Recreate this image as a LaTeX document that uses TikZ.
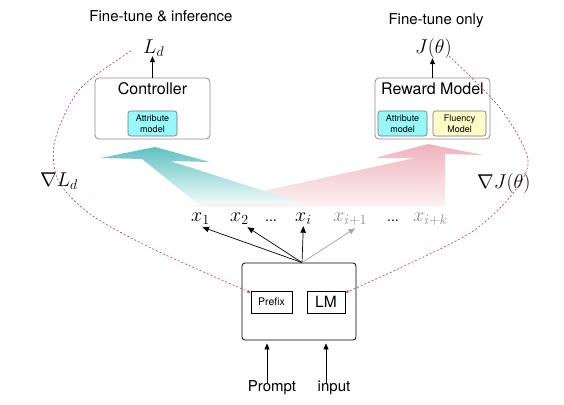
\RequirePackage{fix-cm}
\documentclass[tikz,border=0pt]{standalone}
\usepackage{fontspec}
\setmainfont{TeX Gyre Heros}
\usetikzlibrary{arrows.meta}
\definecolor{attr}{RGB}{150,248,250}
\definecolor{flu}{RGB}{255,252,200}
\definecolor{redd}{RGB}{200,50,70}
\definecolor{tealt}{RGB}{95,193,193}
\definecolor{tealm}{RGB}{150,215,215}
\definecolor{tealb}{RGB}{242,251,251}
\definecolor{pinkt}{RGB}{240,178,188}
\definecolor{pinkm}{RGB}{244,200,207}
\definecolor{pinkb}{RGB}{253,242,244}
\begin{document}
\begin{tikzpicture}[x=1pt,y=-1pt,
  title/.style={font=\fontsize{15}{18}\selectfont, inner sep=0pt},
  boxtitle/.style={font=\fontsize{16}{19}\selectfont, inner sep=0pt},
  mathl/.style={font=\fontsize{20}{24}\selectfont, inner sep=0pt, anchor=base west},
  dotsl/.style={font=\fontsize{14}{16}\selectfont, inner sep=0pt, anchor=base west},
  outerbox/.style={draw=black!45, line width=0.8pt, rounded corners=4pt, fill=white, minimum width=115pt, minimum height=61pt},
  innerbox/.style={draw=black!55, line width=0.6pt, rounded corners=2.5pt, minimum height=25pt, inner sep=0pt, align=center, font=\fontsize{9}{11}\selectfont},
  sqbox/.style={draw, line width=0.7pt, minimum height=22pt, inner sep=0pt},
  blk/.style={line width=0.8pt, -{Triangle[length=6pt,width=5pt]}},
  tok/.style={line width=0.7pt, -{Triangle[length=6.5pt,width=5.5pt]}},
  reddash/.style={draw=redd, line width=0.6pt, dash pattern=on 2pt off 2pt, -{Stealth[length=4pt,width=3pt]}}
]
\useasboundingbox (0,0) rectangle (564,404);

% gradient arrows
\shade[top color=pinkt, middle color=pinkm, bottom color=pinkb] (190,207) -- (415,158) -- (375,158) -- (428,144) -- (483,155) -- (445,154) -- (445,206) -- cycle;
\shade[top color=tealt, middle color=tealm, bottom color=tealb] (198,204) -- (142,159) -- (100,158) -- (155,147) -- (210,162) -- (170,161) -- (305,204) -- cycle;

% titles
\node[title] (t1) at (161,16) {Fine-tune \& inference};
\node[title] (t2) at (436,20.5) {Fine-tune only};

% controller
\node[outerbox] (ctrl) at (152.5,108.5) {};
\node[boxtitle] (ctrlt) at (152.5,89) {Controller};
\node[innerbox, fill=attr, minimum width=49pt] (attr1) at (152.5,123.5) {Attribute\\model};
\node[mathl] (Ld) at (143,53) {$L_d$};
\draw[blk] (ctrl.north) -- (ctrl.north |- Ld.south);

% reward model
\node[outerbox] (rew) at (432.5,108.5) {};
\node[boxtitle] (rewt) at (432.5,89) {Reward Model};
\node[innerbox, fill=attr, minimum width=49pt] (attr2) at (402.5,123.5) {Attribute\\model};
\node[innerbox, fill=flu, minimum width=53pt] (flu) at (459.5,123.5) {Fluency\\Model};
\node[mathl] (J) at (415,53) {$J(\theta)$};
\draw[blk] (rew.north) -- (rew.north |- J.south);

% gradient labels
\node[mathl] (gL) at (40,186) {$\nabla L_d$};
\node[mathl] (gJ) at (477,188) {$\nabla J(\theta)$};

% tokens
\node[mathl] (x1) at (191,221) {$x_1$};
\node[mathl] (x2) at (230,221) {$x_2$};
\node[dotsl] (d1) at (265,221) {...};
\node[mathl] (xi) at (295,221) {$x_i$};
\node[mathl, text=black!45] (xi1) at (333,221) {$x_{i+1}$};
\node[dotsl] (d2) at (387,221) {...};
\node[mathl, text=black!45] (xik) at (413,221) {$x_{i+k}$};

% main model box
\node[draw, line width=0.8pt, rounded corners=3pt, minimum width=114pt, minimum height=77pt] (main) at (299,301.5) {};
\node[sqbox, minimum width=41pt, font=\fontsize{10.5}{12}\selectfont] (pre) at (271.5,302) {Prefix};
\node[sqbox, minimum width=38pt, font=\fontsize{15.5}{18}\selectfont] (lm) at (326,302) {LM};

% token arrows
\coordinate (src) at ([xshift=3pt]main.north);
\draw[tok] (src) -- ([xshift=2pt,yshift=-3pt]x1.south);
\draw[tok] (src) -- ([xshift=8pt,yshift=-3pt]x2.south);
\draw[tok] (src) -- ([yshift=-2pt]xi.south);
\draw[tok, draw=black!35, fill=black!35] (src) -- ([xshift=5pt,yshift=-3pt]xi1.south);

% inputs
\node[title] (prompt) at (272,388) {Prompt};
\node[title] (input) at (334,388) {input};
\draw[blk] ([xshift=-5pt,yshift=-2pt]prompt.north) -- ([xshift=-5pt,yshift=-3pt]prompt.north |- main.south);
\draw[blk] ([xshift=-8pt,yshift=-2pt]input.north) -- ([xshift=-8pt,yshift=-3pt]input.north |- main.south);

% dashed gradient curves
\coordinate (ls) at (131,51);
\coordinate (pw) at ([yshift=-2pt]pre.north west);
\coordinate (rs) at (449,56);
\coordinate (lw) at ([yshift=-2pt]lm.north east);
\draw[reddash] plot[smooth] coordinates {(ls) (80,89) (55,140) (58,180) (90,214) (153,249) (pw)};
\draw[reddash] plot[smooth] coordinates {(rs) (500,108) (528,160) (510,197) (470,233) (400,268) (lw)};
\end{tikzpicture}
\end{document}
